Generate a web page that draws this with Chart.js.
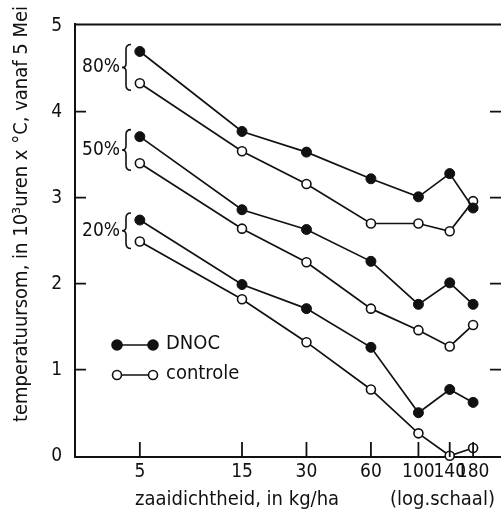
<!DOCTYPE html>
<html>
<head>
<meta charset="utf-8">
<script src="https://cdn.jsdelivr.net/npm/chart.js@4.4.1/dist/chart.umd.min.js"></script>
<style>
  html, body { margin: 0; padding: 0; background: #fff; }
  #wrap { width: 501px; height: 515px; }
</style>
</head>
<body>
<div id="wrap"><canvas id="chart-line" width="501" height="515"></canvas></div>
<script>
// ========== Data ==========
const seedRates = [5, 15, 30, 60, 100, 140, 180];
const xTicks = [5, 15, 30, 60, 100, 140, 180];
const yTicks = [0, 1, 2, 3, 4, 5];
const groupLabels = ["80%", "50%", "20%"];

const dnoc80 = [4.70, 3.77, 3.53, 3.22, 3.01, 3.28, 2.88];
const ctrl80 = [4.33, 3.54, 3.16, 2.70, 2.70, 2.61, 2.96];
const dnoc50 = [3.71, 2.86, 2.63, 2.26, 1.76, 2.01, 1.76];
const ctrl50 = [3.40, 2.64, 2.25, 1.71, 1.46, 1.27, 1.52];
const dnoc20 = [2.74, 1.99, 1.71, 1.26, 0.50, 0.77, 0.62];
const ctrl20 = [2.49, 1.82, 1.32, 0.77, 0.26, 0.00, 0.09];

const FONT = "'DejaVu Sans Condensed', 'Liberation Sans Narrow', sans-serif";
const INK = "#111";

function toPoints(arr) {
  return seedRates.map((x, i) => ({ x: x, y: arr[i] }));
}

function dnocSet(arr) {
  return {
    label: "DNOC",
    data: toPoints(arr),
    borderColor: INK,
    borderWidth: 1.7,
    pointRadius: 5,
    pointBackgroundColor: INK,
    pointBorderColor: INK,
    pointBorderWidth: 1,
    tension: 0,
    clip: false,
  };
}

function ctrlSet(arr) {
  return {
    label: "controle",
    data: toPoints(arr),
    borderColor: INK,
    borderWidth: 1.7,
    pointRadius: 4.5,
    pointBackgroundColor: "#fff",
    pointBorderColor: INK,
    pointBorderWidth: 1.6,
    tension: 0,
    clip: false,
  };
}

const groups = [
  [dnoc80, ctrl80],
  [dnoc50, ctrl50],
  [dnoc20, ctrl20],
];

// ========== Plugin: frame, inward ticks, labels, legend ==========
const paperDecor = {
  id: "paperDecor",
  afterDraw: (chart) => {
    const { ctx, chartArea, scales } = chart;
    const xs = scales.x;
    const ys = scales.y;
    ctx.save();
    ctx.strokeStyle = INK;
    ctx.fillStyle = INK;

    // top frame line
    ctx.lineWidth = 2;
    ctx.beginPath();
    ctx.moveTo(chartArea.left, chartArea.top);
    ctx.lineTo(chartArea.right, chartArea.top);
    ctx.stroke();

    // inward ticks
    ctx.lineWidth = 1.8;
    yTicks.forEach((v) => {
      if (v === 0 || v === 5) return;
      const py = ys.getPixelForValue(v);
      ctx.beginPath();
      ctx.moveTo(chartArea.left, py);
      ctx.lineTo(chartArea.left + 11, py);
      ctx.moveTo(chartArea.right, py);
      ctx.lineTo(chartArea.right - 11, py);
      ctx.stroke();
    });
    xTicks.forEach((v) => {
      const px = xs.getPixelForValue(v);
      ctx.beginPath();
      ctx.moveTo(px, chartArea.bottom);
      ctx.lineTo(px, chartArea.bottom - 15);
      ctx.stroke();
    });

    // group brackets
    ctx.lineWidth = 1.6;
    ctx.font = "19px " + FONT;
    ctx.textAlign = "right";
    ctx.textBaseline = "middle";
    groups.forEach((g, i) => {
      const top = ys.getPixelForValue(g[0][0]) - 7;
      const bottom = ys.getPixelForValue(g[1][0]) + 7;
      const mid = (top + bottom) / 2;
      const bx = 126;
      ctx.beginPath();
      ctx.moveTo(bx + 5, top);
      ctx.quadraticCurveTo(bx, top, bx, top + 5);
      ctx.lineTo(bx, mid - 4);
      ctx.quadraticCurveTo(bx, mid, bx - 4, mid);
      ctx.quadraticCurveTo(bx, mid, bx, mid + 4);
      ctx.lineTo(bx, bottom - 5);
      ctx.quadraticCurveTo(bx, bottom, bx + 5, bottom);
      ctx.stroke();
      ctx.fillText(groupLabels[i], 120, mid);
    });

    // legend
    ctx.textAlign = "left";
    ctx.font = "20px " + FONT;
    const legendRows = [
      { y: 345, text: "DNOC", fill: INK, r: 5 },
      { y: 375, text: "controle", fill: "#fff", r: 4.5 },
    ];
    legendRows.forEach((row) => {
      ctx.lineWidth = 1.7;
      ctx.beginPath();
      ctx.moveTo(117, row.y);
      ctx.lineTo(153, row.y);
      ctx.stroke();
      [117, 153].forEach((cx) => {
        ctx.beginPath();
        ctx.arc(cx, row.y, row.r, 0, Math.PI * 2);
        ctx.fillStyle = row.fill;
        ctx.fill();
        ctx.lineWidth = 1.6;
        ctx.stroke();
      });
      ctx.fillStyle = INK;
      ctx.fillText(row.text, 166, row.y - 1);
    });

    // axis titles
    ctx.font = "20px " + FONT;
    ctx.textBaseline = "middle";
    ctx.textAlign = "left";
    ctx.fillText("zaaidichtheid, in kg/ha", 135, 500);
    ctx.fillText("(log.schaal)", 390, 500);

    ctx.translate(22, 214);
    ctx.rotate(-Math.PI / 2);
    ctx.textAlign = "center";
    ctx.fillText("temperatuursom, in 10\u00B3uren x \u00B0C, vanaf 5 Mei", 0, 0);
    ctx.restore();
  },
};

// ========== Chart ==========
const ctxLine = document.getElementById("chart-line").getContext("2d");
const chartLine = new Chart(ctxLine, {
  type: "line",
  data: {
    datasets: [
      dnocSet(dnoc80), ctrlSet(ctrl80),
      dnocSet(dnoc50), ctrlSet(ctrl50),
      dnocSet(dnoc20), ctrlSet(ctrl20),
    ],
  },
  options: {
    responsive: false,
    animation: false,
    layout: {
      autoPadding: false,
      padding: { top: 22, right: 0, left: 0, bottom: 0 },
    },
    plugins: {
      legend: { display: false },
      tooltip: { enabled: false },
    },
    scales: {
      x: {
        type: "logarithmic",
        min: 2.49,
        max: 243,
        afterBuildTicks: (scale) => {
          scale.ticks = xTicks.map((v) => ({ value: v }));
        },
        afterFit: (scale) => {
          scale.height = 58;
          scale.paddingLeft = 0;
          scale.paddingRight = 0;
        },
        grid: { display: false, tickLength: 0 },
        border: { display: true, color: INK, width: 2 },
        ticks: {
          autoSkip: false,
          maxRotation: 0,
          padding: 4,
          color: INK,
          font: { family: FONT, size: 19 },
          callback: (v) => String(v),
        },
      },
      y: {
        type: "linear",
        min: -0.015,
        max: 5.015,
        afterBuildTicks: (scale) => {
          scale.ticks = yTicks.map((v) => ({ value: v }));
        },
        afterFit: (scale) => {
          scale.width = 75;
        },
        grid: { display: false, tickLength: 0 },
        border: { display: true, color: INK, width: 2 },
        ticks: {
          padding: 13,
          color: INK,
          font: { family: FONT, size: 19 },
        },
      },
    },
  },
  plugins: [paperDecor],
});
</script>
</body>
</html>
